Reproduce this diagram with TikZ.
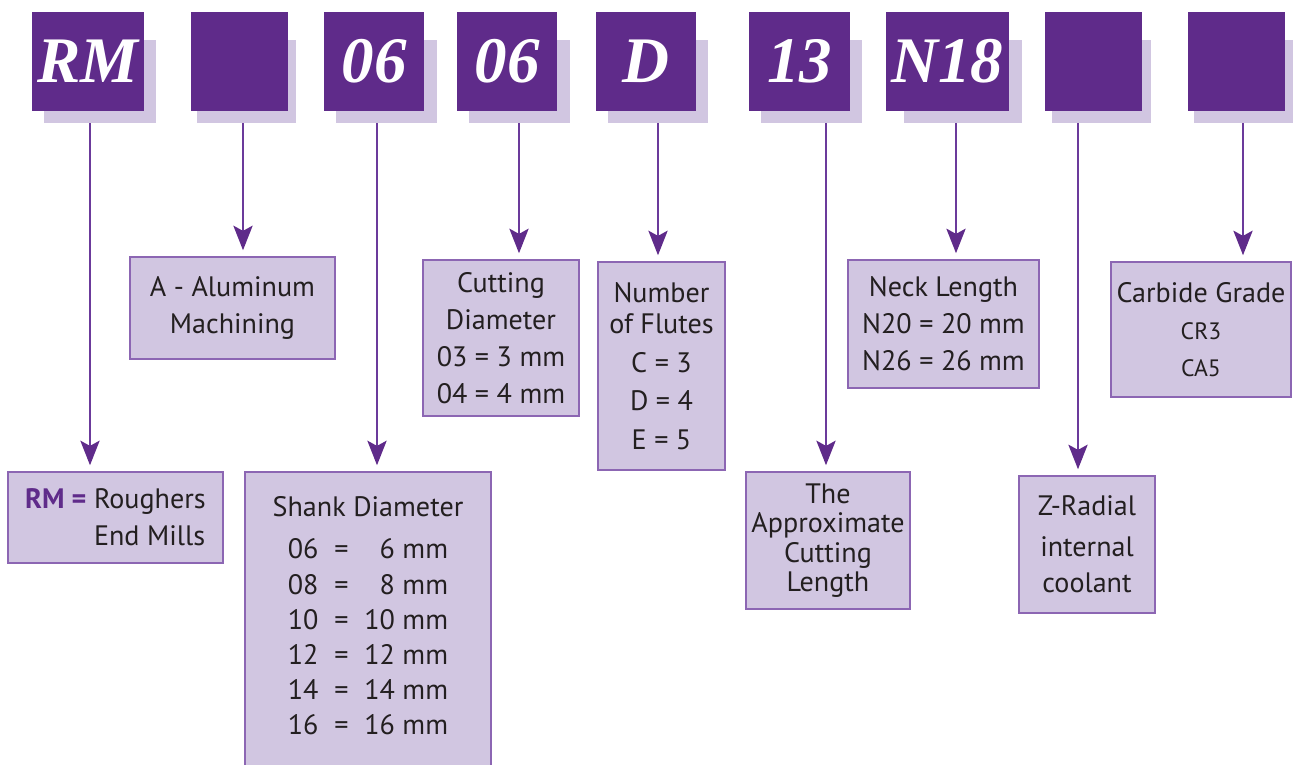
\documentclass[tikz,border=0pt]{standalone}
\usepackage{fontspec}
\setmainfont{PT Sans}
\newfontfamily\codefont{Liberation Serif}
\usetikzlibrary{arrows.meta,positioning}
\definecolor{hdrpurple}{HTML}{5F2B8A}
\definecolor{lavender}{HTML}{D1C6E1}
\definecolor{edgepurple}{HTML}{8C66B3}
\definecolor{linkpurple}{HTML}{6B3A9B}
\definecolor{textgray}{HTML}{231F20}
\begin{document}
\begin{tikzpicture}[
    x=0.02cm, y=-0.02cm,
    codebox/.style={fill=hdrpurple, text=white, minimum height=1.98cm, inner sep=0pt,
      font=\codefont\bfseries\itshape\fontsize{37}{40}\selectfont},
    backdrop/.style={fill=lavender, minimum height=1.66cm, inner sep=0pt},
    infobox/.style={draw=edgepurple, line width=0.9pt, fill=lavender, align=center, inner sep=0pt,
      text=textgray, font=\fontsize{16}{21}\selectfont},
    link/.style={draw=linkpurple, line width=0.9pt, shorten >=0.12cm,
      -{Stealth[length=14pt, width=11pt, inset=3pt, color=hdrpurple]}}
]
  \clip (0,0) rectangle (1293,764);

  % shadows behind the code letters
  \node[backdrop, minimum width=2.24cm] (s1) at (100,81.5) {};
  \node[backdrop, minimum width=1.98cm] (s2) at (246.5,81.5) {};
  \node[backdrop, minimum width=2.02cm] (s3) at (386.5,81.5) {};
  \node[backdrop, minimum width=2.02cm] (s4) at (519.5,81.5) {};
  \node[backdrop, minimum width=2.0cm] (s5) at (658,81.5) {};
  \node[backdrop, minimum width=2.02cm] (s6) at (811.5,81.5) {};
  \node[backdrop, minimum width=2.36cm] (s7) at (963,81.5) {};
  \node[backdrop, minimum width=1.98cm] (s8) at (1101.5,81.5) {};
  \node[backdrop, minimum width=1.98cm] (s9) at (1243.5,81.5) {};

  % code letters
  \node[codebox, minimum width=2.24cm] (h1) at (88,61.5) {RM};
  \node[codebox, minimum width=1.94cm] (h2) at (239.5,61.5) {};
  \node[codebox, minimum width=2.0cm] (h3) at (374,61.5) {06};
  \node[codebox, minimum width=2.0cm] (h4) at (507,61.5) {06};
  \node[codebox, minimum width=2.0cm] (h5) at (646,61.5) {D};
  \node[codebox, minimum width=2.02cm] (h6) at (799.5,61.5) {13};
  \node[codebox, minimum width=2.46cm] (h7) at (947.5,61.5) {N18};
  \node[codebox, minimum width=1.94cm] (h8) at (1093.5,61.5) {};
  \node[codebox, minimum width=1.94cm] (h9) at (1236.5,61.5) {};

  % explanations
  \node[infobox, align=left, minimum width=4.3cm, minimum height=1.82cm] (b1) at (115.5,517.5)
    {{\color{hdrpurple}\bfseries RM =}~Roughers\\\hphantom{\bfseries RM =}~End Mills};
  \node[infobox, minimum width=4.1cm, minimum height=2.04cm] (b2) at (232.5,308)
    {A - Aluminum\\Machining};
  \node[infobox, minimum width=4.92cm, minimum height=6.36cm] (b3) at (368,631) {};
  \node[below=0.38cm of b3.north, text=textgray, font=\fontsize{16}{20}\selectfont, align=center] (b3t)
    {Shank Diameter\\[9pt]
     \begin{tabular}{@{}l@{\hspace{9pt}}c@{\hspace{9pt}}r@{}}
       06 & = & 6 mm\\
       08 & = & 8 mm\\
       10 & = & 10 mm\\
       12 & = & 12 mm\\
       14 & = & 14 mm\\
       16 & = & 16 mm
     \end{tabular}};
  \node[infobox, minimum width=3.12cm, minimum height=3.12cm] (b4) at (501,338)
    {Cutting\\Diameter\\03 = 3 mm\\04 = 4 mm};
  \node[infobox, minimum width=2.54cm, minimum height=4.16cm] (b5) at (661.5,366)
    {Number\\[-3pt]of Flutes\\[1pt]C = 3\\[1pt]D = 4\\[1pt]E = 5};
  \node[infobox, minimum width=3.28cm, minimum height=2.74cm, font=\fontsize{16}{16.8}\selectfont] (b6) at (828,540.5)
    {The\\Approximate\\Cutting\\Length};
  \node[infobox, minimum width=3.82cm, minimum height=2.56cm] (b7) at (943.5,324)
    {Neck Length\\N20 = 20 mm\\N26 = 26 mm};
  \node[infobox, minimum width=2.72cm, minimum height=2.74cm] (b8) at (1087,544.5)
    {Z-Radial\\[2pt]internal\\coolant};
  \node[infobox, minimum width=3.6cm, minimum height=2.7cm] (b9) at (1201,329.5)
    {Carbide Grade\\{\fontsize{13.5}{18}\selectfont CR3}\\{\fontsize{13.5}{18}\selectfont CA5}};

  % connectors
  \coordinate (x1) at (90,0);
  \coordinate (x2) at (243,0);
  \coordinate (x3) at (377,0);
  \coordinate (x4) at (519,0);
  \coordinate (x5) at (658,0);
  \coordinate (x6) at (826,0);
  \coordinate (x7) at (956,0);
  \coordinate (x8) at (1078,0);
  \coordinate (x9) at (1243,0);
  \draw[link] (x1 |- s1.south) -- (x1 |- b1.north);
  \draw[link] (x2 |- s2.south) -- (x2 |- b2.north);
  \draw[link] (x3 |- s3.south) -- (x3 |- b3.north);
  \draw[link] (x4 |- s4.south) -- (x4 |- b4.north);
  \draw[link] (x5 |- s5.south) -- (x5 |- b5.north);
  \draw[link] (x6 |- s6.south) -- (x6 |- b6.north);
  \draw[link] (x7 |- s7.south) -- (x7 |- b7.north);
  \draw[link] (x8 |- s8.south) -- (x8 |- b8.north);
  \draw[link] (x9 |- s9.south) -- (x9 |- b9.north);
\end{tikzpicture}
\end{document}
